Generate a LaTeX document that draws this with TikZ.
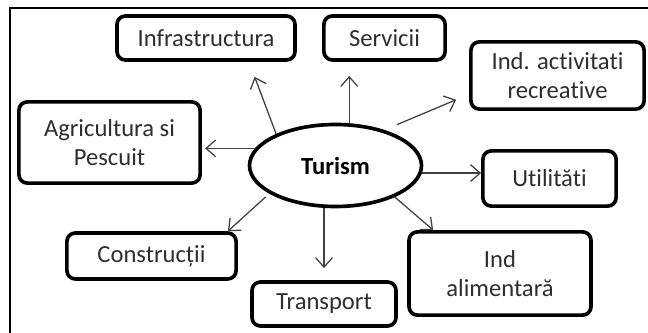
\documentclass[tikz,border=0pt]{standalone}
\usepackage{fontspec}
\setmainfont{Carlito}[Ligatures=NoCommon]
\usetikzlibrary{arrows.meta,shapes.geometric}

\begin{document}
\begin{tikzpicture}
		\tikzstyle {sector box} = [draw, line width=2.6pt, rounded corners=6pt, inner sep=0pt, align=center, text=black!82, font=\fontsize{17.5}{20.5}\selectfont]
		\tikzstyle {hub} = [draw, ellipse, line width=2.6pt, inner sep=0pt, font=\fontsize{17.5}{20.5}\selectfont\bfseries]
		\tikzstyle {link line} = [->, >={Straight Barb[length=2.4mm, width=4.2mm]}, draw=black!75, line width=0.9pt]

		\useasboundingbox (0,0) rectangle (16.2,8.325);
		\draw[line width=1.5pt] (0.25,0) -- (0.25,8.125) -- (16.2,8.125);

		\node[hub, minimum width=4.3cm, minimum height=2.05cm] (turism) at (8.3875,4.1875) {Turism};

		\node[sector box, minimum width=4.45cm, minimum height=1.1cm] (infra) at (5.15,7.375) {Infrastructura};
		\node[sector box, minimum width=3.03cm, minimum height=1.1cm] (serv) at (9.6125,7.375) {Servicii};
		\node[sector box, minimum width=4.33cm, minimum height=1.68cm] (act) at (13.9375,6.4375) {Ind. activitati\\recreative};
		\node[sector box, minimum width=4.53cm, minimum height=2.03cm] (agri) at (2.7375,4.7625) {Agricultura si\\Pescuit};
		\node[sector box, minimum width=3.33cm, minimum height=1.38cm] (util) at (13.7375,3.8625) {Utilităti};
		\node[sector box, minimum width=4.55cm, minimum height=2.08cm] (alim) at (12.5,1.4875) {Ind\\alimentară};
		\node[sector box, minimum width=3.6cm, minimum height=1.1cm] (trans) at (8.1,0.725) {Transport};
		\node[sector box, minimum width=4.23cm, minimum height=1.15cm] (cons) at (3.7875,1.925) {Construcții};

		\draw[link line, shorten >=0.4cm] (turism.152) -- (infra.331.4);
		\draw[link line, shorten >=0.35cm] (turism.72) -- (turism.72 |- serv.south);
		\draw[link line, shorten <=0.34cm, shorten >=0.35cm] (turism.36) -- (act.192);
		\draw[link line, shorten >=0.08cm] (turism.168) -- (turism.168 -| agri.east);
		\draw[link line] (turism.355) -- (turism.355 -| util.west);
		\draw[link line] (turism.332) -- (alim.147);
		\draw[link line, shorten >=0.3cm] (turism.south -| trans.north) -- (trans.north);
		\draw[link line, shorten <=0.12cm] (turism.203) -- (cons.18);

	\end{tikzpicture}
\end{document}
